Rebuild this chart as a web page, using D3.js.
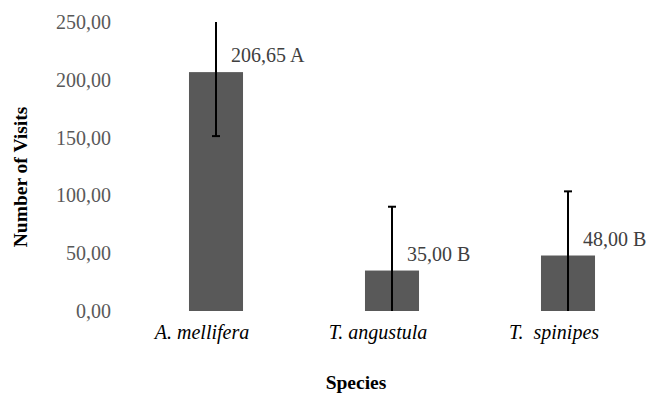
<!DOCTYPE html>
<html>
<head>
<meta charset="utf-8">
<script src="https://cdn.jsdelivr.net/npm/d3@7"></script>
<style>
  html, body { margin: 0; padding: 0; background: #fff; }
  svg { display: block; }
  text { font-family: "Liberation Serif", "Times New Roman", serif; }
</style>
</head>
<body>
<svg id="chart" width="654" height="393"></svg>
<script>
const species = ["A. mellifera", "T. angustula", "T.  spinipes"];
const visits = [206.65, 35.00, 48.00];
const errors = [55.35, 55.2, 55.5];
const groups = ["A", "B", "B"];
const yTicks = [0, 50, 100, 150, 200, 250];

const W = 654, H = 393;
const svg = d3.select("#chart");

const x = d3.scalePoint().domain(species).range([128, 656]).padding(0.5);
const y = d3.scaleLinear().domain([0, 250]).range([311, 22]);
const barW = x.step() * 0.307;

const fmt = v => d3.format(".2f")(v).replace(".", ",");

// y axis (no line, no ticks)
const yAxis = d3.axisLeft(y).tickValues(yTicks).tickFormat(fmt).tickSize(0).tickPadding(0);
const gy = svg.append("g").attr("transform", "translate(111,0)").call(yAxis);
gy.select(".domain").remove();
gy.selectAll("text")
  .attr("font-family", "Liberation Serif, Times New Roman, serif")
  .attr("font-size", 20).attr("fill", "#595959");

// bars
svg.append("g").selectAll("rect").data(species).join("rect")
  .attr("x", d => x(d) - barW / 2)
  .attr("y", (d, i) => y(visits[i]))
  .attr("width", barW)
  .attr("height", (d, i) => y(0) - y(visits[i]))
  .attr("fill", "#595959");

// error bars (clipped to axis range)
const eb = svg.append("g").attr("stroke", "#000").attr("stroke-width", 2);
species.forEach((s, i) => {
  const lo = visits[i] - errors[i], hi = visits[i] + errors[i];
  const loC = Math.max(0, lo), hiC = Math.min(250, hi);
  const cx = x(s);
  eb.append("line").attr("x1", cx).attr("x2", cx).attr("y1", y(loC)).attr("y2", y(hiC));
  if (lo >= 0) eb.append("line").attr("x1", cx - 4).attr("x2", cx + 4).attr("y1", y(lo)).attr("y2", y(lo));
  if (hi <= 250) eb.append("line").attr("x1", cx - 4).attr("x2", cx + 4).attr("y1", y(hi)).attr("y2", y(hi));
});

// value labels
svg.append("g").selectAll("text").data(species).join("text")
  .attr("x", d => x(d) + 15)
  .attr("y", (d, i) => y(visits[i]) - 10)
  .attr("font-size", 20).attr("fill", "#404040")
  .text((d, i) => fmt(visits[i]) + " " + groups[i]);

// category labels
svg.append("g").selectAll("text").data(species).join("text")
  .attr("x", d => x(d) - 14)
  .attr("y", 339)
  .attr("text-anchor", "middle")
  .attr("font-size", 20).attr("font-style", "italic").attr("fill", "#000")
  .attr("xml:space", "preserve")
  .style("white-space", "pre")
  .text(d => d);

// axis titles
svg.append("text")
  .attr("x", 356).attr("y", 389)
  .attr("text-anchor", "middle")
  .attr("font-size", 19.5).attr("font-weight", "bold").attr("fill", "#000")
  .text("Species");

svg.append("text")
  .attr("transform", "translate(27,177) rotate(-90)")
  .attr("text-anchor", "middle")
  .attr("font-size", 19.5).attr("font-weight", "bold").attr("fill", "#000")
  .text("Number of Visits");
</script>
</body>
</html>
